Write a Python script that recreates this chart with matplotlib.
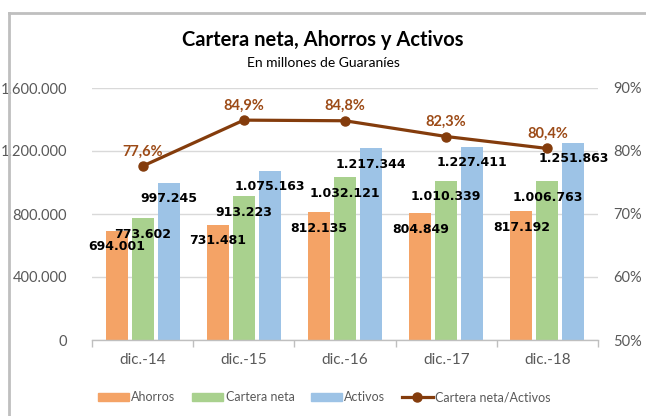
import numpy as np
import matplotlib.pyplot as plt
from matplotlib.lines import Line2D
from matplotlib.patches import Patch
from matplotlib.ticker import FuncFormatter

# Data
periodos = ["dic.-14", "dic.-15", "dic.-16", "dic.-17", "dic.-18"]
ahorros = [694001, 731481, 812135, 804849, 817192]
cartera_neta = [773602, 913223, 1032121, 1010339, 1006763]
activos = [997245, 1075163, 1217344, 1227411, 1251863]
ratio = [77.6, 84.9, 84.8, 82.3, 80.4]

c_ahorros = "#F4A366"
c_cartera = "#A9D18E"
c_activos = "#9DC3E6"
c_ratio = "#843C0C"
c_ratio_lbl = "#9C4A16"
gris = "#595959"

plt.rcParams["font.family"] = ["Lato", "DejaVu Sans"]


def miles(v):
    return f"{int(round(v)):,}".replace(",", ".")


fig = plt.figure(figsize=(6.46, 4.16), dpi=100, facecolor="white")
ax = fig.add_axes([92 / 646, 1 - 340 / 416, 506 / 646, 252 / 416])

x = np.arange(len(periodos))
w = 0.218
step = 0.257
series = [(ahorros, c_ahorros, "Ahorros"),
          (cartera_neta, c_cartera, "Cartera neta"),
          (activos, c_activos, "Activos")]
for i, (vals, col, name) in enumerate(series):
    xs = x + (i - 1) * step
    ax.bar(xs, vals, width=w, color=col, zorder=2)
    for xi, v in zip(xs, vals):
        ax.annotate(miles(v), (xi, v), xytext=(0, -11.5), textcoords="offset points",
                    ha="center", va="center", fontsize=9, fontweight="bold",
                    family="DejaVu Sans", color="black", zorder=5)

ax.set_xlim(-0.5, len(periodos) - 0.5)
ax.set_ylim(0, 1600000)
ax.set_yticks(np.arange(0, 1600001, 400000))
ax.yaxis.set_major_formatter(FuncFormatter(lambda v, p: miles(v)))
ax.grid(axis="y", color="#D9D9D9", linewidth=1, zorder=0)
ax.set_axisbelow(True)
for s in ["top", "right", "left"]:
    ax.spines[s].set_visible(False)
ax.spines["bottom"].set_color("#BFBFBF")
ax.spines["bottom"].set_linewidth(1)
ax.set_xticks(np.arange(-0.5, len(periodos)), minor=False)
ax.set_xticklabels([])
ax.set_xticks(x, minor=True)
ax.set_xticklabels(periodos, minor=True)
ax.tick_params(axis="x", which="major", length=5, color="#BFBFBF", width=1)
ax.tick_params(axis="x", which="minor", length=0, labelsize=11, labelcolor=gris, pad=9)
ax.tick_params(axis="y", length=0, labelsize=10.5, labelcolor=gris, pad=18)

ax2 = ax.twinx()
ax2.set_ylim(50, 90)
ax2.set_yticks(np.arange(50, 91, 10))
ax2.yaxis.set_major_formatter(FuncFormatter(lambda v, p: f"{int(v)}%"))
ax2.tick_params(axis="y", length=0, labelsize=10.5, labelcolor=gris, pad=11)
for s in ax2.spines.values():
    s.set_visible(False)
ax2.plot(x, ratio, color=c_ratio, linewidth=2.3, marker="o", markersize=6.5, zorder=4)
for xi, v in zip(x, ratio):
    ax2.annotate(f"{v:.1f}%".replace(".", ","), (xi, v), xytext=(0, 10.5),
                 textcoords="offset points", ha="center", va="center",
                 fontsize=10.5, fontweight="bold", color=c_ratio_lbl)

fig.text(0.5, 1 - 40 / 416, "Cartera neta, Ahorros y Activos", ha="center", va="center",
         fontsize=14.5, fontweight="bold", color="black")
fig.text(0.5, 1 - 63 / 416, "En millones de Guaraníes", ha="center", va="center",
         fontsize=10, color="black")

handles = [Patch(color=c_ahorros, label="Ahorros"),
           Patch(color=c_cartera, label="Cartera neta"),
           Patch(color=c_activos, label="Activos"),
           Line2D([], [], color=c_ratio, linewidth=2.3, marker="o", markersize=6.5,
                  label="Cartera neta/Activos")]
leg = fig.legend(handles=handles, loc="center", bbox_to_anchor=(0.502, 1 - 397 / 416),
                 ncol=4, frameon=False, fontsize=9, handlelength=2.5,
                 handleheight=0.6, handletextpad=0.2, columnspacing=1.3)
for t in leg.get_texts():
    t.set_color(gris)

# frame of the chart area
fig.add_artist(Line2D([9 / 646, 1], [1 - 13 / 416] * 2, color="#BFBFBF", linewidth=2,
                      transform=fig.transFigure))
fig.add_artist(Line2D([9 / 646] * 2, [0, 1 - 13 / 416], color="#BFBFBF", linewidth=2,
                      transform=fig.transFigure))

fig.savefig("out.png", dpi=100, facecolor="white")
